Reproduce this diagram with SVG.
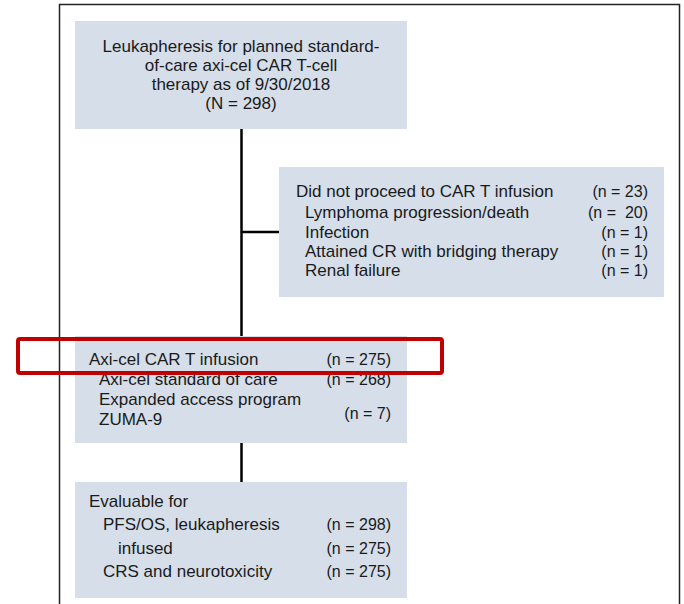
<svg xmlns="http://www.w3.org/2000/svg" width="684" height="604" viewBox="0 0 684 604">
<style>
.box{fill:#d5dee9}
.t{font-family:"Liberation Sans",Arial,sans-serif;font-size:17px;fill:#1a1a1a}
.n{font-family:"Liberation Sans",Arial,sans-serif;font-size:16px;fill:#1a1a1a;text-anchor:end}
.c{text-anchor:middle}
.ln{stroke:#000;stroke-width:2.5;fill:none}
</style>
<rect x="0" y="0" width="684" height="604" fill="#fff"/>
<path d="M59.5 604 V4.5 H679.5 V604" fill="none" stroke="#222" stroke-width="1.5"/>
<g id="connectors">
<line class="ln" x1="241.5" y1="129" x2="241.5" y2="336"/>
<line class="ln" x1="241.5" y1="232" x2="279" y2="232"/>
<line class="ln" x1="241.5" y1="443" x2="241.5" y2="482"/>
</g>
<g id="leukapheresis">
<rect class="box" x="75" y="21" width="332" height="108"/>
<text class="t c" x="241" y="52">Leukapheresis for planned standard-</text>
<text class="t c" x="241" y="71">of-care axi-cel CAR T-cell</text>
<text class="t c" x="241" y="90">therapy as of 9/30/2018</text>
<text class="t c" x="241" y="109">(N = 298)</text>
</g>
<g id="not-proceed">
<rect class="box" x="279" y="167" width="385" height="130"/>
<text class="t" x="296" y="197">Did not proceed to CAR T infusion</text>
<text class="n" x="648" y="197">(n = 23)</text>
<text class="t" x="305" y="218">Lymphoma progression/death</text>
<text class="n" x="648" y="218" xml:space="preserve">(n =  20)</text>
<text class="t" x="305" y="238">Infection</text>
<text class="n" x="648" y="238">(n = 1)</text>
<text class="t" x="305" y="257">Attained CR with bridging therapy</text>
<text class="n" x="648" y="257">(n = 1)</text>
<text class="t" x="305" y="276">Renal failure</text>
<text class="n" x="648" y="276">(n = 1)</text>
</g>
<g id="infusion">
<rect class="box" x="75" y="336" width="332" height="107"/>
<text class="t" x="89" y="365">Axi-cel CAR T infusion</text>
<text class="n" x="391" y="385">(n = 268)</text>
<text class="n" x="391" y="365">(n = 275)</text>
<text class="t" x="99" y="385">Axi-cel standard of care</text>
<text class="t" x="99" y="405">Expanded access program</text>
<text class="t" x="99" y="425">ZUMA-9</text>
<text class="n" x="391" y="419">(n = 7)</text>
</g>
<g id="evaluable">
<rect class="box" x="75" y="482" width="332" height="116"/>
<text class="t" x="89" y="507">Evaluable for</text>
<text class="t" x="103" y="530">PFS/OS, leukapheresis</text>
<text class="n" x="391" y="530">(n = 298)</text>
<text class="t" x="118" y="554">infused</text>
<text class="n" x="391" y="554">(n = 275)</text>
<text class="t" x="103" y="577">CRS and neurotoxicity</text>
<text class="n" x="391" y="577">(n = 275)</text>
</g>
<g id="highlight">
<rect x="18" y="339" width="424" height="34" rx="2" fill="none" stroke="#c00000" stroke-width="4"/>
</g>
</svg>
